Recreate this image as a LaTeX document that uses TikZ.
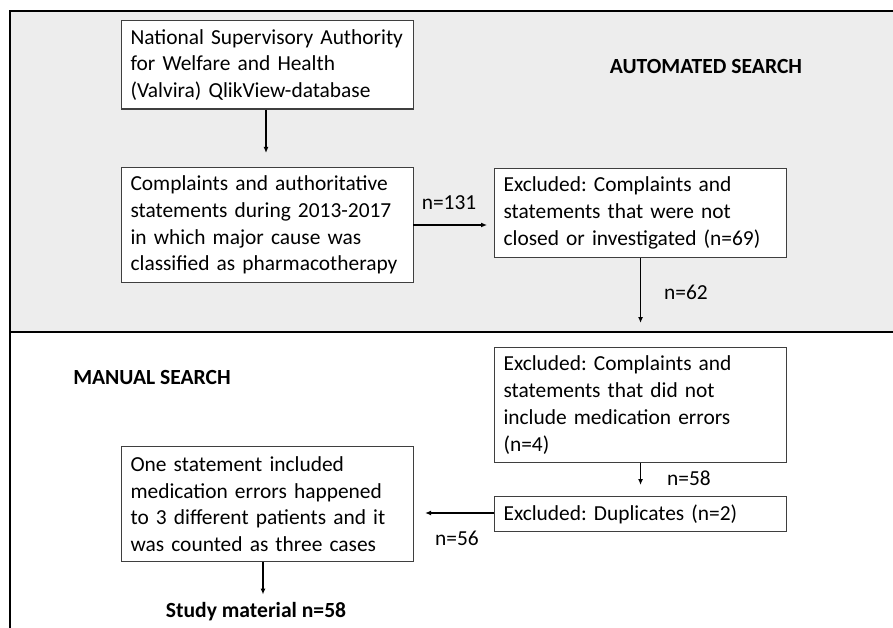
\documentclass[tikz,border=0pt]{standalone}
\usepackage{fontspec}
\setmainfont{Carlito}
\usetikzlibrary{arrows.meta}
\definecolor{panelgray}{HTML}{EDEDED}
\definecolor{boxline}{HTML}{3F3F3F}
\frenchspacing
\begin{document}
\begin{tikzpicture}[x=1pt,y=-1pt,
  font=\fontsize{21.4}{26.7}\selectfont,
  flowbox/.style={draw=boxline,line width=1.1pt,fill=white,anchor=north west,
    text width=274pt,inner xsep=9pt,inner ysep=0pt,align=left},
  arr/.style={line width=1.2pt,-{Latex[length=6pt,width=5pt]}},
  lab/.style={inner sep=0pt},
  head/.style={inner sep=0pt,font=\fontsize{21.6}{24}\selectfont\bfseries}]
\useasboundingbox (0,0) rectangle (893,628);
\fill[panelgray] (10,11) rectangle (893,332);
\draw[line width=2pt] (893,11) -- (10,11) -- (10,628);
\draw[line width=2.5pt] (10,332) -- (893,332);

\node[flowbox,minimum height=88.5pt] (b1) at (121,20)
  {National Supervisory Authority\\for Welfare and Health\\(Valvira) QlikView-database};
\node[flowbox,minimum height=115pt] (b2) at (121,167)
  {Complaints and authoritative\\statements during 2013-2017\\in which major cause was\\classified as pharmacotherapy};
\node[flowbox,minimum height=89pt] (b3) at (494,168)
  {Excluded: Complaints and\\statements that were not\\closed or investigated (n=69)};
\node[flowbox,minimum height=115pt] (b4) at (494,347)
  {Excluded: Complaints and\\statements that did not\\include medication errors\\(n=4)};
\node[flowbox,minimum height=35pt] (b5) at (494,496)
  {Excluded: Duplicates (n=2)};
\node[flowbox,minimum height=115pt] (b6) at (121,446)
  {One statement included\\medication errors happened\\to 3 different patients and it\\was counted as three cases};

\node[head] (auto) at (706,66) {AUTOMATED SEARCH};
\node[head] (manual) at (152,377) {MANUAL SEARCH};
\node[head] (study) at (256,612) {Study material n=58};

\node[lab] (n131) at (449,203) {n=131};
\node[lab] (n62) at (686,292) {n=62};
\node[lab] (n58) at (689,478) {n=58};
\node[lab] (n56) at (457,538) {n=56};

\draw[arr,shorten >=14pt] (b1.south -| 266,0) -- (b2.north -| 266,0);
\draw[arr,shorten >=7pt] (413,225) -- (413,225 -| b3.west);
\draw[arr,shorten >=24pt] (b3.south) -- (b4.north);
\draw[arr,shorten >=11pt] (b4.south) -- (b5.north);
\draw[arr,shorten >=11pt] (b5.west |- 0,513) -- (b6.east |- 0,513);
\draw[arr,shorten >=8pt] (b6.south -| 263,0) -- (study.north -| 263,0);
\end{tikzpicture}
\end{document}
